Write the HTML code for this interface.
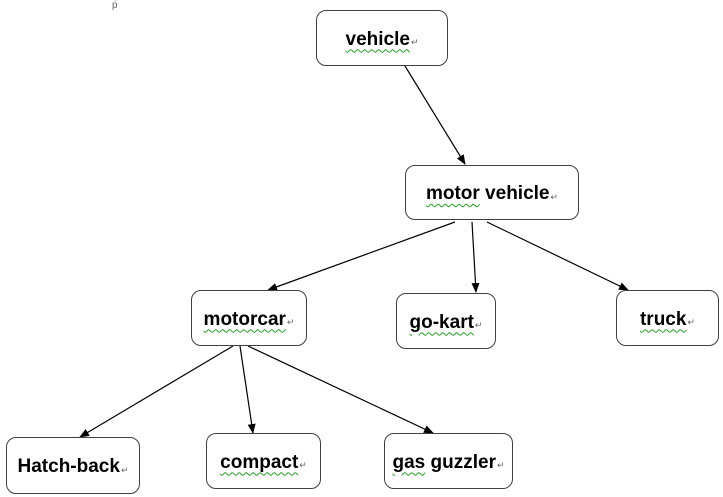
<!DOCTYPE html>
<html><head><style>
body{margin:0;width:723px;height:497px;background:#fff;position:relative;overflow:hidden;font-family:"Liberation Sans",sans-serif}
.b{position:absolute;border:1.5px solid #404040;border-radius:10px;box-sizing:border-box;background:#fff;font-weight:bold;font-size:19px;color:#000;display:flex;align-items:center;justify-content:center;padding-top:3px}
.b span{text-decoration:underline wavy #2a9a2a;text-decoration-thickness:1px;text-underline-offset:4px}
.b i{font-style:normal;font-weight:normal;font-size:9px;color:#666;margin-left:1px;margin-top:6px}
svg{position:absolute;left:0;top:0}
</style></head><body>
<svg width="723" height="497">
<defs><marker id="a" markerWidth="10" markerHeight="8" refX="9" refY="4" orient="auto" markerUnits="userSpaceOnUse"><path d="M0,0 L10,4 L0,8z" fill="#000"/></marker></defs>
<g stroke="#000" stroke-width="1.2" marker-end="url(#a)">
<line x1="405" y1="66" x2="465" y2="164"/>
<line x1="455" y1="222" x2="268" y2="290"/>
<line x1="472" y1="222" x2="476" y2="292"/>
<line x1="487" y1="222" x2="628" y2="290"/>
<line x1="233" y1="346" x2="80" y2="437"/>
<line x1="240" y1="346" x2="253" y2="433"/>
<line x1="248" y1="346" x2="433" y2="433"/>
</g>
<text x="112" y="8" font-size="10" fill="#666">ṗ</text>
</svg>
<div class="b" style="left:316px;top:10px;width:132px;height:56px"><span>vehicle</span><i>↵</i></div>
<div class="b" style="left:405px;top:165px;width:174px;height:55px"><span>motor</span>&nbsp;vehicle<i>↵</i></div>
<div class="b" style="left:191px;top:290px;width:116px;height:56px"><span>motorcar</span><i>↵</i></div>
<div class="b" style="left:396px;top:293px;width:100px;height:56px"><span>go-kart</span><i>↵</i></div>
<div class="b" style="left:616px;top:290px;width:103px;height:56px"><span>truck</span><i>↵</i></div>
<div class="b" style="left:6px;top:437px;width:134px;height:57px">Hatch-back<i>↵</i></div>
<div class="b" style="left:206px;top:433px;width:115px;height:56px"><span>compact</span><i>↵</i></div>
<div class="b" style="left:384px;top:433px;width:129px;height:56px"><span>gas</span>&nbsp;guzzler<i>↵</i></div>
</body></html>
